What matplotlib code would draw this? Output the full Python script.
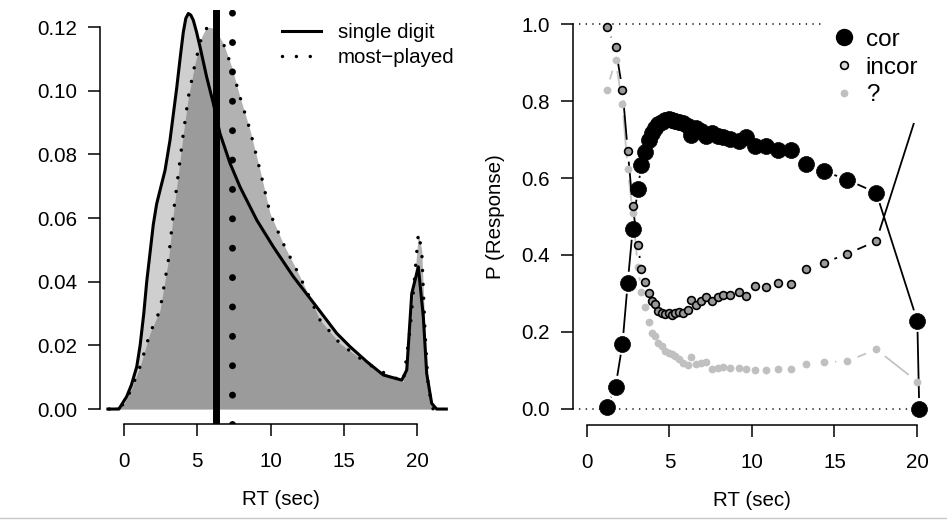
import numpy as np
import matplotlib
matplotlib.use("Agg")
import matplotlib.pyplot as plt
from matplotlib.lines import Line2D
from matplotlib.collections import LineCollection

plt.rcParams['font.family'] = ['Liberation Sans', 'DejaVu Sans']

# left panel: RT densities
single_x = [-1.1, -0.35, 0.18, 0.5, 0.87, 1.1, 1.35, 1.55, 1.8, 2.0, 2.23, 2.5, 2.8, 3.14, 3.6, 3.85, 4.05,
            4.22, 4.39, 4.56, 4.73, 4.95, 5.19, 5.64, 6.1, 6.55, 7.24, 7.92, 9.06, 10.19, 11.56, 13.15,
            14.52, 15.43, 16.57, 17.7, 18.96, 19.3, 19.64, 20.09, 20.43, 20.66, 21.0, 21.34, 22.0]
single_y = [0, 0, 0.0039, 0.0075, 0.0133, 0.020, 0.030, 0.040, 0.050, 0.058, 0.0645, 0.0695, 0.075, 0.0845,
            0.101, 0.111, 0.1185, 0.1228, 0.1243, 0.1238, 0.1222, 0.1185, 0.1138, 0.1044, 0.096, 0.0866,
            0.0772, 0.0698, 0.0594, 0.051, 0.0416, 0.0321, 0.0238, 0.0196, 0.0149, 0.0107, 0.0091,
            0.0123, 0.0363, 0.0447, 0.029, 0.0112, 0.0018, 0, 0]
most_x = [-1.0, 0.0, 0.52, 1.09, 1.77, 2.46, 3.03, 3.37, 3.71, 4.05, 4.39, 4.85, 5.3, 5.55, 5.76, 6.0,
          6.33, 6.78, 7.35, 7.92, 8.6, 9.28, 9.97, 10.87, 12.01, 13.38, 14.74, 15.65, 16.57, 17.7,
          19.07, 19.52, 19.86, 20.09, 20.32, 20.55, 20.77, 21.1, 22.0]
most_y = [0, 0.0015, 0.0065, 0.0133, 0.0238, 0.0311, 0.0468, 0.0615, 0.074, 0.0866, 0.098, 0.1086,
          0.117, 0.1193, 0.120, 0.1198, 0.1185, 0.1149, 0.1075, 0.098, 0.0877, 0.0751, 0.0615, 0.052,
          0.0416, 0.028, 0.0206, 0.0175, 0.0144, 0.0115, 0.0086, 0.0248, 0.0426, 0.0552, 0.05, 0.0238,
          0.0066, 0, 0]
single_mean = 6.26
most_mean = 7.39

# right panel: P(response) per RT bin
rt_bins = [1.2, 1.73, 2.15, 2.47, 2.77, 3.08, 3.3, 3.53, 3.74, 3.92, 4.12, 4.32, 4.52, 4.73, 4.95,
           5.15, 5.35, 5.58, 5.84, 6.1, 6.33, 6.6, 6.9, 7.22, 7.58, 7.92, 8.26, 8.67, 9.19, 9.66,
           10.2, 10.83, 11.55, 12.34, 13.27, 14.37, 15.78, 17.53]
p_cor = [0.004, 0.058, 0.169, 0.328, 0.468, 0.572, 0.634, 0.668, 0.699, 0.716, 0.729, 0.740, 0.746,
         0.751, 0.752, 0.751, 0.749, 0.746, 0.742, 0.735, 0.713, 0.731, 0.722, 0.710, 0.718, 0.710,
         0.706, 0.702, 0.695, 0.707, 0.682, 0.683, 0.672, 0.673, 0.636, 0.618, 0.595, 0.562]
p_incor = [0.993, 0.939, 0.829, 0.671, 0.528, 0.426, 0.364, 0.331, 0.300, 0.280, 0.272, 0.255, 0.250,
           0.248, 0.250, 0.245, 0.250, 0.253, 0.250, 0.258, 0.282, 0.270, 0.280, 0.290, 0.281, 0.292,
           0.296, 0.297, 0.305, 0.294, 0.319, 0.317, 0.328, 0.325, 0.363, 0.380, 0.403, 0.436]
p_q = [0.829, 0.906, 0.791, 0.623, 0.51, 0.37, 0.305, 0.264, 0.227, 0.198, 0.190, 0.172, 0.163, 0.150,
       0.145, 0.142, 0.137, 0.130, 0.120, 0.114, 0.134, 0.117, 0.120, 0.122, 0.104, 0.106, 0.108,
       0.106, 0.106, 0.104, 0.101, 0.102, 0.104, 0.104, 0.117, 0.122, 0.124, 0.155]
# timeout bin
cor_tail_x = [20.02, 20.14]
cor_tail = [0.229, 0.0]
incor_tail_x = [20.02]
incor_tail = [0.77]
q_tail_x = [20.02]
q_tail = [0.071]

FS = 14.8
fig = plt.figure(figsize=(9.47, 5.2), dpi=100)
W, H = 947.0, 520.0


def style_axes(ax):
    for s in ['top', 'right']:
        ax.spines[s].set_visible(False)
    for s in ['left', 'bottom']:
        ax.spines[s].set_linewidth(1.1)
    ax.tick_params(length=8.5, width=1.1, labelsize=FS)
    ax.tick_params(axis='y', pad=8)
    ax.tick_params(axis='x', pad=12)


def type_b(ax, x, y, gap_px, **kw):
    # R style type="b": segments stop short of each point
    pts = ax.transData.transform(np.column_stack([x, y]))
    inv = ax.transData.inverted()
    segs = []
    for p0, p1 in zip(pts[:-1], pts[1:]):
        d = p1 - p0
        L = np.hypot(*d)
        if L > 2 * gap_px:
            u = d / L
            segs.append(inv.transform(np.array([p0 + u * gap_px, p1 - u * gap_px])))
    ax.add_collection(LineCollection(segs, **kw))


# ---- left panel
ax1 = fig.add_axes([100 / W, 1 - 424 / H, 362 / W, 414 / H])
ax1.set_xlim(-1.638, 23.07)
ax1.set_ylim(-0.0047, 0.1254)
style_axes(ax1)

ax1.fill_between(most_x, most_y, color='black', alpha=0.30, lw=0)
ax1.axvline(most_mean, color='black', lw=5.0, linestyle=(0, (0.001, 4.23)),
            dash_capstyle='round')
ax1.fill_between(single_x, single_y, color='#6e6e6e', alpha=0.33, lw=0)
ax1.axvline(single_mean, color='black', lw=5.0)
ax1.plot(most_x, most_y, color='black', lw=2.5, linestyle=(0, (0.001, 4)),
         dash_capstyle='round')
ax1.plot(single_x, single_y, color='black', lw=2.2)

ax1.set_xticks([0, 5, 10, 15, 20])
ax1.set_yticks([0, 0.02, 0.04, 0.06, 0.08, 0.10, 0.12])
ax1.set_yticklabels(['0.00', '0.02', '0.04', '0.06', '0.08', '0.10', '0.12'])
ax1.spines['bottom'].set_bounds(0, 20)
ax1.spines['left'].set_bounds(0, 0.12)
ax1.set_xlabel('RT (sec)', fontsize=FS, labelpad=13)

h1 = [Line2D([], [], color='black', lw=2.2),
      Line2D([], [], color='black', lw=2.5, linestyle=(0, (0.001, 4)), dash_capstyle='round')]
ax1.legend(h1, ['single digit', 'most\u2212played'], loc='upper left',
           bbox_to_anchor=(282 / W, 1 - 23 / H), bbox_transform=fig.transFigure,
           frameon=False, fontsize=FS, handlelength=1.9, handletextpad=0.8,
           labelspacing=0.3, borderpad=0, borderaxespad=0)

# ---- right panel
ax2 = fig.add_axes([573 / W, 1 - 425 / H, 357 / W, 416 / H])
ax2.set_xlim(-0.848, 20.79)
ax2.set_ylim(-0.0416, 1.039)
style_axes(ax2)

ax2.axhline(0, color='black', lw=1.2, linestyle=(0, (0.001, 4)), dash_capstyle='round')
ax2.axhline(1, color='black', lw=1.2, linestyle=(0, (0.001, 4)), dash_capstyle='round')

gap = 11
type_b(ax2, rt_bins + q_tail_x, p_q + q_tail, gap, colors='#c4c4c4', linewidths=1.3)
type_b(ax2, rt_bins + incor_tail_x, p_incor + incor_tail, gap, colors='black', linewidths=1.3)
type_b(ax2, rt_bins + cor_tail_x, p_cor + cor_tail, gap, colors='black', linewidths=1.3)

ax2.plot(rt_bins + q_tail_x, p_q + q_tail, 'o', ms=5.6, color='#c0c0c0', mec='none')
ax2.plot(rt_bins, p_incor, 'o', ms=5.6, mfc='#9a9a9a', mec='black', mew=1.2)
ax2.plot(rt_bins + cor_tail_x, p_cor + cor_tail, 'o', ms=11.5, color='black', mec='black', mew=0.5)

ax2.set_xticks([0, 5, 10, 15, 20])
ax2.set_yticks([0, 0.2, 0.4, 0.6, 0.8, 1.0])
ax2.set_yticklabels(['0.0', '0.2', '0.4', '0.6', '0.8', '1.0'])
ax2.spines['bottom'].set_bounds(0, 20)
ax2.spines['left'].set_bounds(0, 1)
ax2.set_xlabel('RT (sec)', fontsize=FS, labelpad=13)
ax2.set_ylabel('P (Response)', fontsize=FS, labelpad=12)

h2 = [Line2D([], [], ls='none', marker='o', ms=11.5, color='black'),
      Line2D([], [], ls='none', marker='o', ms=5.6, mfc='#d8d8d8', mec='black', mew=1.2),
      Line2D([], [], ls='none', marker='o', ms=5.6, color='#c0c0c0', mec='none')]
leg2 = ax2.legend(h2, ['cor', 'incor', '?'], loc='upper left',
                  bbox_to_anchor=(822 / W, 1 - 19 / H), bbox_transform=fig.transFigure,
                  fontsize=17.5, handlelength=1.0, handletextpad=0.4, labelspacing=0.24,
                  borderpad=0.4, borderaxespad=0, frameon=True, fancybox=False)
leg2.get_frame().set_facecolor('white')
leg2.get_frame().set_edgecolor('none')
leg2.get_frame().set_alpha(1)

fig.add_artist(Line2D([0, 1], [1 - 518 / H, 1 - 518 / H], transform=fig.transFigure,
                      color='#c8c8c8', lw=1))

fig.savefig('out.png', dpi=100)
